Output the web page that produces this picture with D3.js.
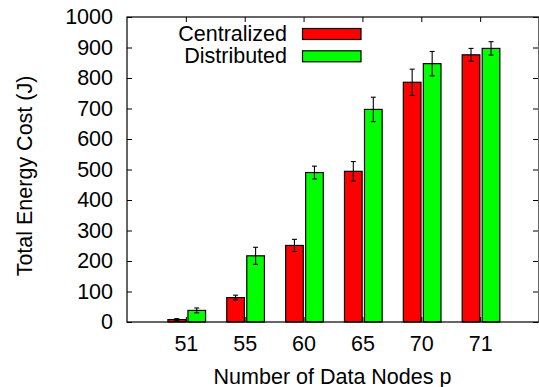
<!DOCTYPE html>
<html>
<head>
<meta charset="utf-8">
<script src="https://cdn.jsdelivr.net/npm/d3@7"></script>
<style>
  html, body { margin: 0; padding: 0; background: #fff; }
  svg { display: block; }
  text { font-family: "Liberation Sans", Arial, Helvetica, sans-serif; fill: #000; }
</style>
</head>
<body>
<svg id="chart" width="539" height="387"></svg>
<script>
// ---- data ----
const categories = ["51", "55", "60", "65", "70", "71"];
const seriesNames = ["Centralized", "Distributed"];
const centralized = [8, 80, 251, 494, 786, 876];
const centralizedErr = [3, 8, 20, 32, 43, 21];
const distributed = [38, 217, 490, 697, 847, 897];
const distributedErr = [8, 28, 21, 40, 40, 22];
const yTicks = [0, 100, 200, 300, 400, 500, 600, 700, 800, 900, 1000];

const colors = ["#ff0000", "#00ff00"];

const svg = d3.select("#chart");
const plotL = 127, plotR = 539, plotT = 17, plotB = 322;

const x = d3.scaleLinear().domain([0, categories.length + 1]).range([plotL, plotR]);
const y = d3.scaleLinear().domain([0, 1000]).range([plotB, plotT]);

const barW = 0.3;
const offsets = [-0.305, 0.035];

const series = [
  { name: seriesNames[0], values: centralized, errs: centralizedErr, color: colors[0], off: offsets[0] },
  { name: seriesNames[1], values: distributed, errs: distributedErr, color: colors[1], off: offsets[1] }
];

// axes
const fs = "21.5px";
const yAxis = d3.axisLeft(y).tickValues(yTicks).tickFormat(d3.format("d"))
  .tickSizeInner(-5).tickSizeOuter(0).tickPadding(14);
const gy = svg.append("g").attr("transform", `translate(${plotL},0)`).call(yAxis);
gy.select(".domain").remove();
gy.selectAll("text").style("font-size", fs);

const yAxisR = d3.axisRight(y).tickValues(yTicks).tickSizeInner(-5).tickSizeOuter(0).tickFormat("");
const gyr = svg.append("g").attr("transform", `translate(${plotR - 1},0)`).call(yAxisR);
gyr.select(".domain").remove();

const catPos = categories.map((c, i) => i + 1);
const xAxis = d3.axisBottom(x).tickValues(catPos).tickFormat((d) => categories[d - 1])
  .tickSizeInner(-5).tickSizeOuter(0).tickPadding(14);
const gx = svg.append("g").attr("transform", `translate(0,${plotB})`).call(xAxis);
gx.select(".domain").remove();
gx.selectAll("text").style("font-size", fs);

const xAxisT = d3.axisTop(x).tickValues(catPos).tickFormat("").tickSizeInner(-5).tickSizeOuter(0);
const gxt = svg.append("g").attr("transform", `translate(0,${plotT})`).call(xAxisT);
gxt.select(".domain").remove();

// bars
series.forEach((s) => {
  const g = svg.append("g");
  g.selectAll("rect").data(s.values).join("rect")
    .attr("x", (d, i) => x(catPos[i] + s.off))
    .attr("y", (d) => y(d))
    .attr("width", x(barW) - x(0))
    .attr("height", (d) => y(0) - y(d))
    .attr("fill", s.color)
    .attr("stroke", "#000")
    .attr("stroke-width", 1.2);
});

// error bars
series.forEach((s) => {
  const g = svg.append("g").attr("stroke", "#000").attr("stroke-width", 1.1);
  s.values.forEach((v, i) => {
    const cx = x(catPos[i] + s.off + barW / 2);
    const y1 = y(v + s.errs[i]), y2 = y(v - s.errs[i]);
    g.append("line").attr("x1", cx).attr("x2", cx).attr("y1", y1).attr("y2", y2);
    g.append("line").attr("x1", cx - 2.5).attr("x2", cx + 2.5).attr("y1", y1).attr("y2", y1);
    g.append("line").attr("x1", cx - 2.5).attr("x2", cx + 2.5).attr("y1", y2).attr("y2", y2);
  });
});

// frame
svg.append("rect").attr("x", plotL).attr("y", plotT).attr("width", plotR - plotL).attr("height", plotB - plotT)
  .attr("fill", "none").attr("stroke", "#000").attr("stroke-width", 1.2);

// legend
series.forEach((s, i) => {
  const ly = 28.5 + i * 22.3;
  svg.append("text").attr("x", 287).attr("y", 41 + i * 22.3).attr("text-anchor", "end")
    .style("font-size", fs).text(s.name);
  svg.append("rect").attr("x", 302.5).attr("y", ly).attr("width", 58.5).attr("height", 11)
    .attr("fill", s.color).attr("stroke", "#000").attr("stroke-width", 1.2);
});

// axis titles
svg.append("text").attr("x", (plotL + plotR) / 2 - 0.5).attr("y", 383.5).attr("text-anchor", "middle")
  .style("font-size", fs).text("Number of Data Nodes p");
svg.append("text").attr("transform", `translate(32,176) rotate(-90)`).attr("text-anchor", "middle")
  .style("font-size", fs).text("Total Energy Cost (J)");
</script>
</body>
</html>
